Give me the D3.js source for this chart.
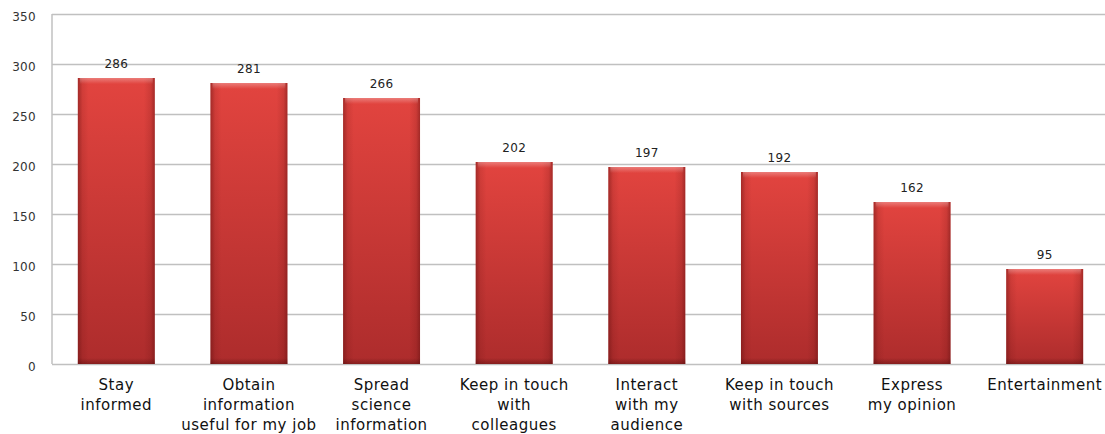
<!DOCTYPE html>
<html>
<head>
<meta charset="utf-8">
<script src="https://cdn.jsdelivr.net/npm/d3@7"></script>
<style>
  html, body { margin: 0; padding: 0; background: #ffffff; }
  svg { display: block; }
</style>
</head>
<body>
<svg id="chart" width="1105" height="434"></svg>
<script>
// Reasons for using social media (number of respondents)
const categories = [
  ["Stay", "informed"],
  ["Obtain", "information", "useful for my job"],
  ["Spread", "science", "information"],
  ["Keep in touch", "with", "colleagues"],
  ["Interact", "with my", "audience"],
  ["Keep in touch", "with sources"],
  ["Express", "my opinion"],
  ["Entertainment"]
];
const values = [286, 281, 266, 202, 197, 192, 162, 95];
const yTicks = [0, 50, 100, 150, 200, 250, 300, 350];

const svg = d3.select("#chart");
const width = 1105, height = 434;
const margin = { top: 14, left: 50, bottom: 70 };
const plotRight = 1111;
const y0 = height - margin.bottom; // 364

const x = d3.scaleBand()
  .domain(d3.range(categories.length))
  .range([margin.left, plotRight])
  .paddingInner(0.42)
  .paddingOuter(0.21);

const y = d3.scaleLinear().domain([0, 350]).range([y0, margin.top]);

// Gradients for the bevelled bars
const defs = svg.append("defs");
const vGrad = defs.append("linearGradient").attr("id", "barV")
  .attr("x1", 0).attr("y1", 0).attr("x2", 0).attr("y2", 1);
vGrad.append("stop").attr("offset", "0%").attr("stop-color", "#e2443f");
vGrad.append("stop").attr("offset", "100%").attr("stop-color", "#ad2c2c");

const hGrad = defs.append("linearGradient").attr("id", "barH")
  .attr("x1", 0).attr("y1", 0).attr("x2", 1).attr("y2", 0);
[[0, 0.45], [0.06, 0.12], [0.14, 0], [0.86, 0], [0.95, 0.15], [1, 0.45]].forEach(([o, a]) => {
  hGrad.append("stop").attr("offset", o).attr("stop-color", "#5a0d0d").attr("stop-opacity", a);
});

const topGrad = defs.append("linearGradient").attr("id", "barTop")
  .attr("x1", 0).attr("y1", 0).attr("x2", 0).attr("y2", 1);
topGrad.append("stop").attr("offset", "0%").attr("stop-color", "#ffffff").attr("stop-opacity", 0.3);
topGrad.append("stop").attr("offset", "100%").attr("stop-color", "#ffffff").attr("stop-opacity", 0);

const botGrad = defs.append("linearGradient").attr("id", "barBot")
  .attr("x1", 0).attr("y1", 0).attr("x2", 0).attr("y2", 1);
botGrad.append("stop").attr("offset", "0%").attr("stop-color", "#4a0a0a").attr("stop-opacity", 0);
botGrad.append("stop").attr("offset", "100%").attr("stop-color", "#4a0a0a").attr("stop-opacity", 0.4);

// Gridlines and y tick labels
const yAxis = d3.axisLeft(y).tickValues(yTicks).tickSize(-(width - margin.left)).tickPadding(16);
const gy = svg.append("g")
  .attr("transform", `translate(${margin.left + 2},0)`)
  .call(yAxis);
gy.select(".domain").remove();
gy.selectAll(".tick line").attr("stroke", "#c0c0c0").attr("stroke-width", 1.5);
gy.selectAll(".tick text")
  .attr("fill", "#333")
  .attr("dy", "0.55em")
  .style("font-family", "'DejaVu Sans', sans-serif")
  .style("font-size", "12px")
  .style("letter-spacing", "0.3px");

// Vertical axis line
svg.append("line")
  .attr("x1", margin.left + 2).attr("x2", margin.left + 2)
  .attr("y1", margin.top).attr("y2", y0)
  .attr("stroke", "#c0c0c0").attr("stroke-width", 1.5);

// Bars
const bars = svg.append("g").selectAll("g.bar")
  .data(values)
  .join("g").attr("class", "bar");

bars.append("rect")
  .attr("x", (d, i) => x(i)).attr("y", d => y(d))
  .attr("width", x.bandwidth()).attr("height", d => y0 - y(d))
  .attr("fill", "url(#barV)");
bars.append("rect")
  .attr("x", (d, i) => x(i)).attr("y", d => y(d))
  .attr("width", x.bandwidth()).attr("height", d => y0 - y(d))
  .attr("fill", "url(#barH)");
bars.append("rect")
  .attr("x", (d, i) => x(i) + 2).attr("y", d => y(d))
  .attr("width", x.bandwidth() - 4).attr("height", 6)
  .attr("fill", "url(#barTop)");
bars.append("rect")
  .attr("x", (d, i) => x(i)).attr("y", y0 - 6)
  .attr("width", x.bandwidth()).attr("height", 6)
  .attr("fill", "url(#barBot)");

// Value labels
bars.append("text")
  .attr("x", (d, i) => x(i) + x.bandwidth() / 2)
  .attr("y", d => y(d) - 10)
  .attr("text-anchor", "middle")
  .attr("fill", "#222")
  .style("font-family", "'DejaVu Sans', sans-serif")
  .style("font-size", "12px")
  .style("letter-spacing", "0.3px")
  .text(d => d);

// Category labels
const cat = svg.append("g").selectAll("text")
  .data(categories)
  .join("text")
  .attr("text-anchor", "middle")
  .attr("fill", "#111")
  .style("font-family", "'DejaVu Sans', sans-serif")
  .style("font-size", "15px")
  .style("letter-spacing", "0.5px")
  .attr("transform", (d, i) => `translate(${x(i) + x.bandwidth() / 2},${y0 + 26})`);
cat.selectAll("tspan")
  .data(d => d)
  .join("tspan")
  .attr("x", 0)
  .attr("dy", (d, j) => j === 0 ? 0 : 20)
  .text(d => d);
</script>
</body>
</html>
